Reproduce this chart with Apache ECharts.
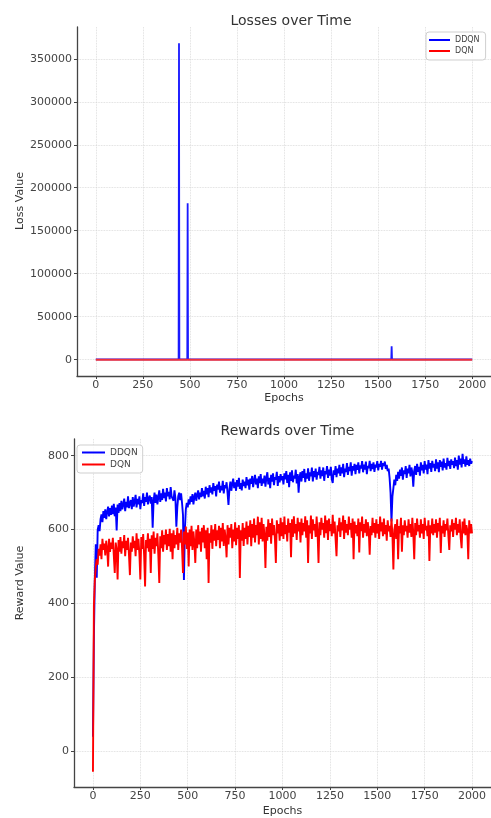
<!DOCTYPE html>
<html>
<head>
<meta charset="utf-8">
<script src="https://cdn.jsdelivr.net/npm/echarts@6/dist/echarts.min.js"></script>
<style>html,body{margin:0;padding:0;background:#fff;}#c{width:491px;height:818px;}</style>
</head>
<body>
<div id="c"></div>
<script>
const seriesNames = ['DDQN', 'DQN'];
const xTicks = [0, 250, 500, 750, 1000, 1250, 1500, 1750, 2000];
const lossTicks = [0, 50000, 100000, 150000, 200000, 250000, 300000, 350000];
const rewardTicks = [0, 200, 400, 600, 800];

// Loss chart: epochs where the loss changes, and the values there
const lossEpochs = [0, 125, 127, 129, 440, 442, 444, 486, 488, 490, 1570, 1572, 1574, 1680, 1682, 1684, 2000];
const ddqnLoss = [300, 300, 2500, 300, 300, 368000, 300, 300, 182000, 300, 300, 15500, 300, 300, 2000, 300, 300];
const dqnLoss = [0, 0, 0, 0, 0, 0, 0, 0, 0, 0, 0, 0, 0, 0, 0, 0, 0];

// Reward chart: one value every 5 epochs (0..2000)
const rewardStep = 5;
const ddqnReward = [
  40, 310, 470, 560, 470, 600, 612, 596, 628, 641, 620, 650, 632, 655, 628, 648, 662, 636, 658, 640,
  665, 642, 670, 636, 660, 598, 668, 645, 672, 650, 678, 655, 668, 684, 650, 675, 660, 690, 658, 672,
  680, 655, 688, 662, 676, 694, 660, 683, 668, 690, 655, 680, 672, 698, 664, 688, 675, 700, 668, 685,
  692, 670, 688, 605, 678, 700, 672, 695, 668, 688, 706, 675, 698, 680, 710, 685, 700, 676, 712, 690,
  702, 682, 715, 690, 695, 678, 706, 685, 608, 660, 690, 700, 680, 698, 672, 640, 464, 600, 655, 672,
  660, 682, 668, 690, 675, 696, 668, 688, 700, 678, 694, 706, 682, 700, 688, 712, 690, 705, 684, 716,
  695, 712, 688, 720, 700, 714, 695, 726, 705, 718, 690, 722, 708, 730, 700, 718, 706, 732, 698, 720,
  712, 728, 700, 667, 710, 730, 705, 724, 738, 712, 728, 705, 734, 716, 740, 710, 726, 706, 735, 718,
  730, 712, 742, 720, 735, 708, 738, 724, 745, 715, 733, 748, 722, 738, 712, 744, 726, 750, 718, 738,
  725, 746, 716, 740, 755, 722, 740, 712, 748, 730, 752, 720, 742, 735, 756, 718, 745, 728, 750, 733,
  745, 722, 752, 736, 758, 726, 748, 715, 755, 732, 760, 728, 746, 738, 762, 725, 750, 700, 742, 755,
  730, 758, 740, 764, 728, 752, 738, 766, 732, 755, 744, 768, 730, 758, 742, 765, 735, 756, 748, 770,
  738, 760, 745, 768, 732, 758, 750, 772, 740, 762, 746, 770, 736, 726, 760, 748, 772, 742, 765, 752,
  775, 745, 768, 752, 778, 742, 765, 756, 780, 748, 770, 758, 782, 746, 772, 760, 778, 750, 775, 762,
  782, 752, 774, 765, 785, 755, 776, 762, 784, 750, 772, 766, 786, 758, 778, 764, 782, 756, 776, 768,
  785, 760, 778, 770, 786, 762, 780, 772, 784, 764, 775, 758, 765, 740, 700, 622, 690, 712, 735, 720,
  748, 732, 756, 738, 762, 745, 768, 735, 760, 750, 772, 740, 765, 752, 775, 744, 768, 755, 716, 760,
  772, 748, 778, 756, 770, 746, 782, 760, 775, 752, 785, 762, 776, 750, 788, 765, 780, 756, 786, 768,
  778, 758, 790, 765, 782, 755, 788, 770, 784, 760, 792, 768, 780, 762, 794, 772, 786, 764, 790, 775,
  785, 766, 795, 772, 788, 762, 800, 776, 792, 768, 805, 778, 790, 770, 798, 775, 788, 772, 792, 778,
  785
];
const dqnReward = [
  -55, 395, 465, 500, 520, 505, 548, 530, 560, 520, 575, 545, 562, 530, 570, 550, 500, 575, 540, 565,
  548, 578, 530, 483, 565, 545, 465, 572, 540, 580, 535, 568, 550, 585, 528, 570, 545, 578, 532, 477,
  565, 540, 582, 550, 570, 528, 590, 545, 575, 535, 465, 580, 548, 588, 530, 446, 572, 550, 590, 540,
  575, 483, 585, 548, 595, 535, 578, 555, 590, 530, 456, 582, 550, 598, 540, 585, 560, 600, 545, 588,
  555, 602, 540, 590, 520, 598, 550, 585, 560, 605, 545, 590, 565, 600, 550, 483, 595, 560, 608, 548,
  592, 500, 600, 555, 610, 545, 595, 565, 510, 600, 550, 612, 560, 595, 540, 605, 565, 612, 550, 598,
  520, 605, 456, 590, 565, 612, 548, 600, 570, 615, 555, 598, 572, 610, 550, 605, 568, 618, 556, 600,
  575, 525, 612, 560, 605, 578, 615, 550, 600, 568, 620, 558, 605, 575, 612, 469, 598, 570, 618, 556,
  605, 575, 622, 560, 610, 580, 625, 555, 615, 578, 630, 565, 612, 585, 635, 560, 620, 575, 632, 568,
  615, 585, 496, 608, 570, 628, 580, 618, 562, 630, 585, 612, 575, 510, 625, 590, 615, 570, 632, 582,
  620, 575, 635, 588, 612, 568, 630, 592, 618, 525, 628, 580, 636, 590, 615, 572, 632, 595, 620, 565,
  630, 585, 618, 595, 636, 578, 625, 510, 612, 590, 638, 575, 628, 598, 615, 580, 635, 592, 510, 620,
  585, 632, 600, 618, 578, 638, 590, 625, 572, 630, 596, 615, 582, 640, 590, 622, 575, 528, 612, 595,
  632, 580, 620, 598, 638, 575, 626, 592, 615, 585, 635, 600, 618, 578, 630, 520, 622, 590, 612, 582,
  630, 538, 620, 596, 635, 578, 615, 592, 628, 582, 620, 598, 532, 610, 585, 632, 592, 618, 578, 628,
  590, 615, 575, 635, 595, 620, 582, 630, 588, 612, 570, 625, 595, 610, 580, 630, 585, 492, 600, 615,
  575, 628, 520, 610, 590, 632, 540, 612, 585, 625, 595, 610, 578, 628, 592, 615, 580, 632, 590, 520,
  618, 585, 630, 595, 612, 578, 628, 590, 615, 575, 632, 598, 610, 582, 625, 515, 612, 590, 630, 585,
  615, 592, 628, 578, 618, 595, 632, 537, 610, 590, 625, 580, 615, 598, 630, 585, 545, 612, 595, 628,
  580, 618, 600, 632, 585, 615, 592, 628, 578, 550, 622, 590, 630, 585, 612, 598, 520, 625, 590, 615,
  590
];

const FONT = 'DejaVu Sans';
const pairs = (xs, ys) => ys.map((v, i) => [xs[i], v]);
const rewardPairs = ys => ys.map((v, i) => [i * rewardStep, v]);
const plain = v => String(v);

function xAxisCfg(gi, nameGap) {
  return {
    type: 'value', gridIndex: gi, min: -100, max: 2100,
    name: 'Epochs', nameLocation: 'middle', nameGap: nameGap, nameMoveOverlap: false,
    nameTextStyle: { fontFamily: FONT, fontSize: 11, color: '#333' },
    axisLine: { show: true, onZero: false, lineStyle: { color: '#444', width: 1.3 } },
    axisTick: { show: true, length: 3, customValues: xTicks, lineStyle: { color: '#444' } },
    axisLabel: { customValues: xTicks, formatter: plain, fontFamily: FONT, fontSize: 11, color: '#444', margin: 4 },
    splitLine: { show: true, lineStyle: { color: '#d6d6d6', type: 'dotted', width: 0.8 } }
  };
}
function yAxisCfg(gi, name, min, max, ticks, nameGap, namePad) {
  return {
    type: 'value', gridIndex: gi, min: min, max: max,
    name: name, nameLocation: 'middle', nameGap: nameGap, nameMoveOverlap: false,
    nameTextStyle: { fontFamily: FONT, fontSize: 11, color: '#333', padding: namePad },
    axisLine: { show: true, onZero: false, lineStyle: { color: '#444', width: 1.3 } },
    axisTick: { show: true, length: 3, customValues: ticks, lineStyle: { color: '#444' } },
    axisLabel: { customValues: ticks, formatter: plain, fontFamily: FONT, fontSize: 11, color: '#444', margin: 5 },
    splitLine: { show: true, lineStyle: { color: '#d6d6d6', type: 'dotted', width: 0.8 } }
  };
}

const chart = echarts.init(document.getElementById('c'), null, { renderer: 'canvas' });
chart.setOption({
  animation: false,
  backgroundColor: '#fff',
  title: [
    { text: 'Losses over Time', left: 286, top: 9, textAlign: 'center',
      textStyle: { fontFamily: FONT, fontSize: 14, fontWeight: 'normal', color: '#333' } },
    { text: 'Rewards over Time', left: 282.5, top: 419, textAlign: 'center',
      textStyle: { fontFamily: FONT, fontSize: 14, fontWeight: 'normal', color: '#333' } }
  ],
  graphic: [
    { type: 'text', x: 20, y: 201, rotation: Math.PI / 2,
      style: { text: 'Loss Value', fontFamily: FONT, fontSize: 11, fill: '#333', align: 'center', verticalAlign: 'middle' } }
  ],
  legend: [
    { data: seriesNames, orient: 'vertical', left: 426, top: 32, icon: 'rect',
      itemWidth: 21, itemHeight: 2, itemGap: 3, padding: [4, 6, 5, 3],
      borderColor: '#cfcfcf', borderWidth: 1, borderRadius: 3, backgroundColor: 'rgba(255,255,255,0.85)',
      textStyle: { fontFamily: FONT, fontSize: 8, color: '#444' } },
    { data: seriesNames, orient: 'vertical', left: 77, top: 445, icon: 'rect',
      itemWidth: 23, itemHeight: 2, itemGap: 3, padding: [3, 5, 4, 5],
      borderColor: '#cfcfcf', borderWidth: 1, borderRadius: 3, backgroundColor: 'rgba(255,255,255,0.85)',
      textStyle: { fontFamily: FONT, fontSize: 9, color: '#444' } }
  ],
  grid: [
    { left: 77, top: 27, width: 418, height: 349 },
    { left: 74, top: 439, width: 418, height: 348 }
  ],
  xAxis: [xAxisCfg(0, 17), xAxisCfg(1, 19)],
  yAxis: [
    yAxisCfg(0, '', -19000, 387000, lossTicks, 52, 0),
    yAxisCfg(1, 'Reward Value', -96, 845, rewardTicks, 48, [0, 0, 0, 60])
  ],
  series: [
    { name: 'DDQN', type: 'line', xAxisIndex: 0, yAxisIndex: 0, data: pairs(lossEpochs, ddqnLoss),
      showSymbol: false, color: '#0000ff', lineStyle: { width: 1.8, color: '#1a1aff' } },
    { name: 'DQN', type: 'line', xAxisIndex: 0, yAxisIndex: 0, data: pairs(lossEpochs, dqnLoss),
      showSymbol: false, color: '#ff0000', lineStyle: { width: 2, color: '#f0303a' } },
    { name: 'DDQN', type: 'line', xAxisIndex: 1, yAxisIndex: 1, data: rewardPairs(ddqnReward),
      showSymbol: false, sampling: null, color: '#0000ff', lineStyle: { width: 1.9, color: '#0000ff' } },
    { name: 'DQN', type: 'line', xAxisIndex: 1, yAxisIndex: 1, data: rewardPairs(dqnReward),
      showSymbol: false, sampling: null, color: '#ff0000', lineStyle: { width: 1.9, color: '#ff0000' } }
  ]
});
</script>
</body>
</html>
